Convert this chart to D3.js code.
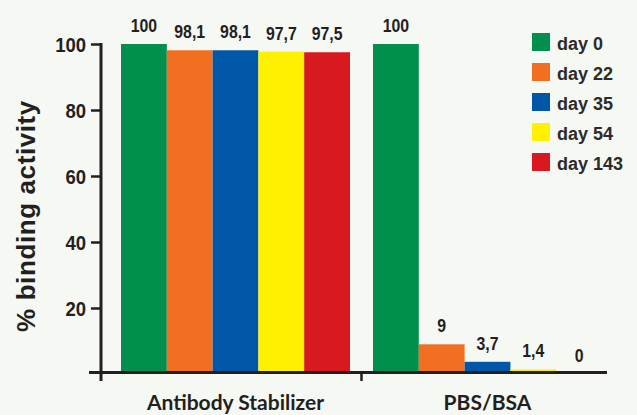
<!DOCTYPE html>
<html>
<head>
<meta charset="utf-8">
<script src="https://cdn.jsdelivr.net/npm/d3@7"></script>
<style>
  html, body { margin: 0; padding: 0; background: #f6f8f3; }
  svg { display: block; }
</style>
</head>
<body>
<div id="chart"></div>
<script>
// data
const groups = ['Antibody Stabilizer', 'PBS/BSA'];
const days = ['day 0', 'day 22', 'day 35', 'day 54', 'day 143'];
const stabilizerValues = [100, 98.1, 98.1, 97.7, 97.5];
const pbsValues = [100, 9, 3.7, 1.4, 0];
const yTicks = [20, 40, 60, 80, 100];
const dayColors = ['#008f4d', '#f26f22', '#0057a8', '#fff100', '#d81920'];

const seriesByGroup = [stabilizerValues, pbsValues];
const rows = groups.map((g, i) => ({
  group: g,
  values: days.map((d, j) => ({ day: d, value: seriesByGroup[i][j] })),
}));

const width = 637;
const height = 415;
const ink = '#231f20';
const sans = '"Liberation Sans", Arial, sans-serif';

const svg = d3
  .select('#chart')
  .append('svg')
  .attr('width', width)
  .attr('height', height);

svg.append('rect').attr('width', width).attr('height', height).attr('fill', '#f6f8f3');

const axisX = 101;
const y = d3.scaleLinear().domain([0, 100]).range([374, 44]);

const x0 = d3
  .scaleBand()
  .domain(groups)
  .range([121, 602])
  .paddingInner(23 / 252);

const x1 = d3.scaleBand().domain(days).range([0, x0.bandwidth()]);
const color = d3.scaleOrdinal().domain(days).range(dayColors);

const fmt = v => String(v).replace('.', ',');

// bars
const g = svg
  .append('g')
  .selectAll('g')
  .data(rows)
  .join('g')
  .attr('transform', d => `translate(${x0(d.group)},0)`);

g.selectAll('rect')
  .data(d => d.values)
  .join('rect')
  .attr('x', d => x1(d.day))
  .attr('y', d => y(d.value))
  .attr('width', x1.bandwidth())
  .attr('height', d => y(0) - y(d.value))
  .attr('fill', d => color(d.day));

// value labels (condensed look: squeeze horizontally)
g.selectAll('text')
  .data(d => d.values)
  .join('text')
  .attr('transform', d => `translate(${x1(d.day) + x1.bandwidth() / 2},${y(d.value) - 12}) scale(0.88,1)`)
  .attr('text-anchor', 'middle')
  .attr('font-family', sans)
  .attr('font-weight', 'bold')
  .attr('font-size', 18)
  .attr('fill', ink)
  .text(d => fmt(d.value));

// y axis
const yAxis = svg
  .append('g')
  .attr('transform', `translate(${axisX},0)`)
  .call(d3.axisLeft(y).tickValues(yTicks).tickSize(10).tickPadding(5));

yAxis.select('.domain').remove();
yAxis.selectAll('.tick line').attr('stroke', ink).attr('stroke-width', 2.5);
yAxis
  .selectAll('.tick text')
  .attr('x', -15 / 0.88)
  .attr('transform', 'scale(0.88,1)')
  .attr('font-family', sans)
  .attr('font-weight', 'bold')
  .attr('font-size', 21)
  .attr('fill', ink)
  .attr('dy', '0.36em');

svg
  .append('line')
  .attr('x1', axisX)
  .attr('x2', axisX)
  .attr('y1', y(100) - 1)
  .attr('y2', 381)
  .attr('stroke', ink)
  .attr('stroke-width', 3);

// x axis baseline + group ticks
svg
  .append('line')
  .attr('x1', 89)
  .attr('x2', 607)
  .attr('y1', y(0) - 1.5)
  .attr('y2', y(0) - 1.5)
  .attr('stroke', ink)
  .attr('stroke-width', 3);

const gap = x0.step() - x0.bandwidth();
svg
  .append('line')
  .attr('x1', x0(groups[1]) - gap / 2)
  .attr('x2', x0(groups[1]) - gap / 2)
  .attr('y1', y(0) - 2)
  .attr('y2', 381)
  .attr('stroke', ink)
  .attr('stroke-width', 2.5);

// group labels
svg
  .append('g')
  .selectAll('text')
  .data(groups)
  .join('text')
  .attr('x', d => x0(d) + x0.bandwidth() / 2)
  .attr('y', 410)
  .attr('text-anchor', 'middle')
  .attr('font-family', 'Lato, "Liberation Sans", sans-serif')
  .attr('font-weight', 'bold')
  .attr('font-size', 21)
  .attr('fill', ink)
  .text(d => d);

// y title
svg
  .append('text')
  .attr('transform', 'translate(35,216) rotate(-90)')
  .attr('text-anchor', 'middle')
  .attr('font-family', sans)
  .attr('font-weight', 'bold')
  .attr('font-size', 26)
  .attr('letter-spacing', 0.6)
  .attr('fill', ink)
  .text('% binding activity');

// legend
const legend = svg
  .append('g')
  .selectAll('g')
  .data(days)
  .join('g')
  .attr('transform', (d, i) => `translate(532,${33 + i * 30})`);

legend.append('rect').attr('width', 18).attr('height', 18).attr('fill', d => color(d));

legend
  .append('text')
  .attr('x', 25)
  .attr('y', 17)
  .attr('font-family', sans)
  .attr('font-weight', 'bold')
  .attr('font-size', 18)
  .attr('fill', '#2b2b2b')
  .text(d => d);
</script>
</body>
</html>
